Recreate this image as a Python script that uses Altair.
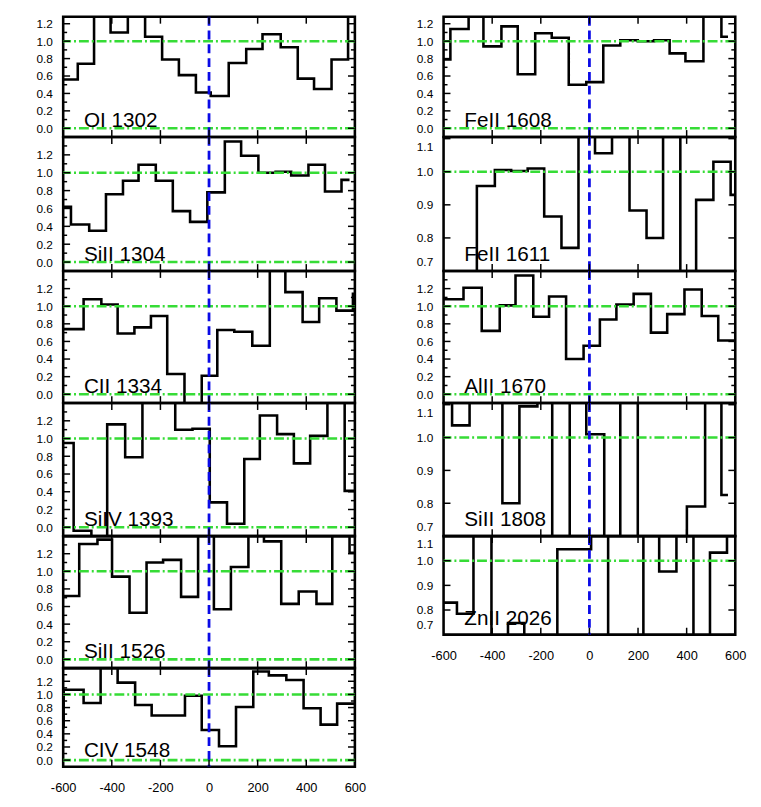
import altair as alt
import pandas as pd

FONT = "Liberation Sans"
GREEN = "#36dc36"
BLUE = "#0a0ae6"
W = 296

X_DOMAIN = [-600, 600]
X_LABELS = [-600, -400, -200, 0, 200, 400, 600]
X_TICKS = [-400, -200, 0, 200, 400]
WIDE_MAJOR = [0.0, 0.2, 0.4, 0.6, 0.8, 1.0, 1.2]
WIDE_MINOR = [0.1, 0.3, 0.5, 0.7, 0.9, 1.1, 1.3]
NARROW_MAJOR = [0.7, 0.8, 0.9, 1.0, 1.1]
NARROW_MINOR = []
WIDE_GUIDES = [0.0, 1.0]
NARROW_GUIDES = [1.0]
ZERO_VEL = [0]

# bin edges (km/s) and normalised flux per bin
OI1302_EDGES = [-610, -540, -473, -405, -334, -263, -193, -124, -54, 7, 81, 153, 220, 295, 365, 432, 504, 572, 640]
OI1302_FLUX = [0.56, 0.74, 1.35, 1.10, 1.45, 1.05, 0.79, 0.61, 0.41, 0.37, 0.75, 0.91, 1.08, 0.93, 0.57, 0.45, 0.79, 1.34]

SIII1304_EDGES = [-610, -568, -493, -424, -354, -290, -219, -149, -78, -7, 65, 132, 203, 274, 338, 409, 477, 545, 578]
SIII1304_FLUX = [0.62, 0.42, 0.35, 0.76, 0.91, 1.09, 0.91, 0.57, 0.45, 0.78, 1.35, 1.19, 1.00, 1.01, 0.97, 1.09, 0.79, 0.92]

CII1334_EDGES = [-610, -516, -443, -376, -307, -239, -172, -101, -30, 34, 104, 178, 250, 314, 385, 453, 524, 592, 640]
CII1334_FLUX = [0.74, 1.08, 1.02, 0.69, 0.76, 0.89, 0.23, -0.15, 0.21, 0.73, 0.71, 0.55, 1.5, 1.16, 0.82, 1.09, 0.95, 1.14]

SIIV1393_EDGES = [-610, -557, -484, -419, -345, -274, -139, -68, 3, 74, 145, 209, 280, 349, 416, 487, 558, 640]
SIIV1393_FLUX = [0.95, -0.04, -0.15, 1.16, 0.79, 1.5, 1.10, 1.11, 0.28, 0.04, 0.77, 1.26, 1.05, 0.72, 1.03, 1.5, 0.41]

SIII1526_EDGES = [-610, -534, -459, -399, -327, -257, -189, -115, -45, 20, 90, 162, 226, 297, 369, 442, 507, 578, 640]
SIII1526_FLUX = [0.72, 1.31, 1.36, 0.94, 0.53, 1.10, 1.13, 0.71, 1.5, 0.57, 1.05, 1.5, 1.34, 0.63, 0.77, 0.63, 1.5, 1.21]

CIV1548_EDGES = [-640, -598, -516, -446, -376, -304, -236, -99, -30, 41, 111, 182, 246, 318, 389, 459, 527, 640]
CIV1548_FLUX = [0.50, 1.07, 0.87, 1.45, 1.18, 0.84, 0.68, 0.98, 0.46, 0.21, 0.81, 1.35, 1.29, 1.22, 0.79, 0.54, 0.86]

FEII1608_EDGES = [-610, -572, -497, -436, -362, -295, -223, -155, -85, -13, 57, 127, 199, 266, 330, 395, 469, 543, 570]
FEII1608_FLUX = [0.79, 1.14, 1.5, 0.94, 1.17, 0.62, 1.09, 1.04, 0.50, 0.53, 0.95, 1.01, 1.00, 1.01, 0.86, 0.77, 1.28, 1.05]

FEII1611_EDGES = [-610, -463, -389, -322, -254, -186, -115, -45, 23, 93, 165, 235, 303, 374, 439, 510, 581, 640]
FEII1611_FLUX = [0.6, 0.957, 1.005, 1.002, 1.01, 0.865, 0.77, 1.2, 1.056, 1.2, 0.883, 0.80, 1.2, 0.6, 0.915, 1.03, 0.93]

ALII1670_EDGES = [-610, -518, -443, -369, -304, -231, -166, -96, -24, 43, 111, 182, 253, 320, 391, 462, 530, 640]
ALII1670_FLUX = [1.08, 1.21, 0.72, 1.01, 1.35, 0.88, 1.11, 0.40, 0.55, 0.85, 1.02, 1.14, 0.70, 0.91, 1.19, 0.89, 0.61]

SIII1808_EDGES = [-610, -565, -493, -358, -288, -214, -153, -81, -13, 61, 127, 199, 401, 476, 543, 570]
SIII1808_FLUX = [1.2, 1.037, 1.2, 0.80, 1.095, 1.2, 0.6, 1.2, 1.01, 0.6, 1.2, 0.6, 0.79, 1.2, 0.825]

ZNII2026_EDGES = [-610, -545, -477, -403, -335, -268, -132, 7, 77, 222, 287, 358, 428, 496, 566, 640]
ZNII2026_FLUX = [0.83, 0.785, 1.2, 0.6, 0.747, 0.6, 1.047, 1.2, 0.6, 1.2, 0.956, 1.2, 0.6, 1.033, 1.2]


def panel(name, edges, flux, domain, h, major, minor, guides, bottom):
    xscale = alt.Scale(domain=X_DOMAIN, nice=False, zero=False)
    yscale = alt.Scale(domain=domain, nice=False, zero=False)
    if bottom:
        xaxis = alt.Axis(values=X_LABELS, labelExpr="'' + datum.value", ticks=False, tickSize=0,
                         domain=False, grid=False, labelFontSize=13, labelPadding=15,
                         labelFlush=False, labelOverlap=False, labelFont=FONT, labelColor="black")
    else:
        xaxis = None
    majors = [v for v in major if domain[0] <= v <= domain[1] + 1e-9]
    yaxis = alt.Axis(values=majors, format=".1f",
                     ticks=False, tickSize=0, domain=False, grid=False, labelFontSize=12,
                     labelPadding=11, minExtent=54, maxExtent=54, labelFlush=3,
                     labelFlushOffset=-3, labelFont=FONT, labelColor="black")

    def X(f):
        return alt.X(f"{f}:Q", scale=xscale, axis=xaxis, title=None)

    def Y(f):
        return alt.Y(f"{f}:Q", scale=yscale, axis=yaxis, title=None)

    step = pd.DataFrame({"v": list(edges), "f": list(flux) + [flux[-1]]})
    line = alt.Chart(step).mark_line(interpolate="step-after", clip=True, color="black",
                                      strokeWidth=2.6).encode(x=X("v"), y=Y("f"))

    gdf = pd.DataFrame({"g": guides})
    green = alt.Chart(gdf).mark_rule(color=GREEN, strokeWidth=2.6, strokeDash=[10, 3, 2, 3]).encode(y=Y("g"))

    bdf = pd.DataFrame({"z": ZERO_VEL})
    blue = alt.Chart(bdf).mark_rule(color=BLUE, strokeWidth=2.8, strokeDash=[9, 5]).encode(x=X("z"))

    maj = pd.DataFrame({"t": majors})
    layers = [line, green, blue]
    layers.append(alt.Chart(maj).mark_rule(color="black", strokeWidth=1.5).encode(
        y=Y("t"), x=alt.value(0), x2=alt.value(7)))
    layers.append(alt.Chart(maj).mark_rule(color="black", strokeWidth=1.5).encode(
        y=Y("t"), x=alt.value(W - 7), x2=alt.value(W)))
    mins = [v for v in minor if domain[0] <= v <= domain[1]]
    if mins:
        mdf = pd.DataFrame({"t": mins})
        layers.append(alt.Chart(mdf).mark_rule(color="black", strokeWidth=1.5).encode(
            y=Y("t"), x=alt.value(0), x2=alt.value(4)))
        layers.append(alt.Chart(mdf).mark_rule(color="black", strokeWidth=1.5).encode(
            y=Y("t"), x=alt.value(W - 4), x2=alt.value(W)))
    xt = pd.DataFrame({"t": X_TICKS})
    layers.append(alt.Chart(xt).mark_rule(color="black", strokeWidth=1.5).encode(
        x=X("t"), y=alt.value(0), y2=alt.value(7)))
    layers.append(alt.Chart(xt).mark_rule(color="black", strokeWidth=1.5).encode(
        x=X("t"), y=alt.value(h - 7), y2=alt.value(h)))

    tdf = pd.DataFrame({"label": [name]})
    layers.append(alt.Chart(tdf).mark_text(align="left", baseline="alphabetic", font=FONT,
                                           fontSize=21, color="black").encode(
        x=alt.value(21), y=alt.value(h - 10), text="label:N"))

    return alt.layer(*layers).properties(width=W, height=h)


WIDE = [-0.1, 1.4]
TOP = [-0.1, 1.28]
NARROW = [0.7, 1.105]

panels = [
    panel("OI 1302", OI1302_EDGES, OI1302_FLUX, TOP, 122, WIDE_MAJOR, WIDE_MINOR, WIDE_GUIDES, False),
    panel("FeII 1608", FEII1608_EDGES, FEII1608_FLUX, TOP, 122, WIDE_MAJOR, WIDE_MINOR, WIDE_GUIDES, False),
    panel("SiII 1304", SIII1304_EDGES, SIII1304_FLUX, WIDE, 136, WIDE_MAJOR, WIDE_MINOR, WIDE_GUIDES, False),
    panel("FeII 1611", FEII1611_EDGES, FEII1611_FLUX, NARROW, 136, NARROW_MAJOR, NARROW_MINOR, NARROW_GUIDES, False),
    panel("CII 1334", CII1334_EDGES, CII1334_FLUX, WIDE, 134, WIDE_MAJOR, WIDE_MINOR, WIDE_GUIDES, False),
    panel("AlII 1670", ALII1670_EDGES, ALII1670_FLUX, WIDE, 134, WIDE_MAJOR, WIDE_MINOR, WIDE_GUIDES, False),
    panel("SiIV 1393", SIIV1393_EDGES, SIIV1393_FLUX, WIDE, 135, WIDE_MAJOR, WIDE_MINOR, WIDE_GUIDES, False),
    panel("SiII 1808", SIII1808_EDGES, SIII1808_FLUX, NARROW, 135, NARROW_MAJOR, NARROW_MINOR, NARROW_GUIDES, False),
    panel("SiII 1526", SIII1526_EDGES, SIII1526_FLUX, WIDE, 134, WIDE_MAJOR, WIDE_MINOR, WIDE_GUIDES, False),
    panel("ZnII 2026", ZNII2026_EDGES, ZNII2026_FLUX, [0.7, 1.1], 100, NARROW_MAJOR, NARROW_MINOR, NARROW_GUIDES, True),
    panel("CIV 1548", CIV1548_EDGES, CIV1548_FLUX, WIDE, 100, WIDE_MAJOR, WIDE_MINOR, WIDE_GUIDES, True),
]

chart = alt.concat(
    *panels, columns=2, spacing=alt.RowColnumber(row=0, column=90), bounds="flush"
).configure_view(
    stroke="black", strokeWidth=2.6
).properties(background="white", padding={"left": 0, "top": 0, "right": 5, "bottom": 5})

chart.save("out.html", embed_options={"renderer": "svg", "actions": False})
